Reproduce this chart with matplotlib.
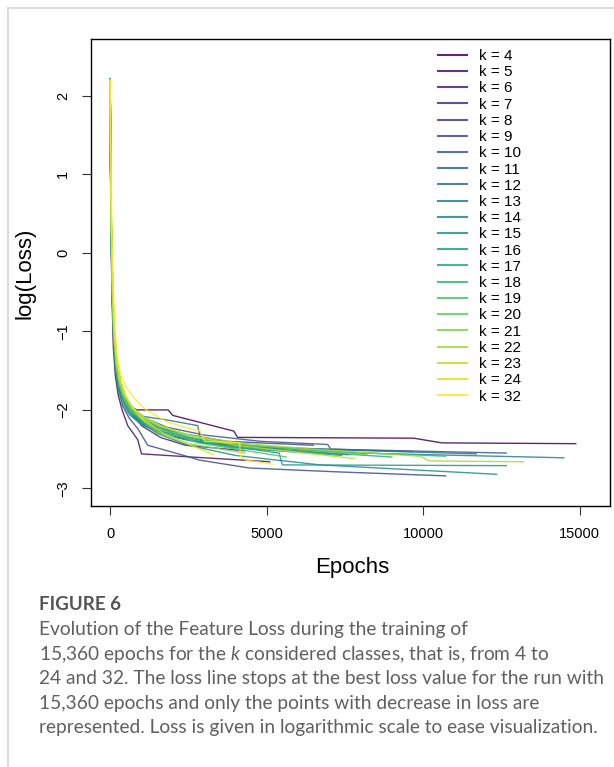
import numpy as np
import matplotlib.pyplot as plt
from matplotlib.lines import Line2D

plt.rcParams["font.family"] = ["Liberation Sans", "DejaVu Sans"]
plt.rcParams["mathtext.fontset"] = "custom"
plt.rcParams["mathtext.rm"] = "Lato"
plt.rcParams["mathtext.it"] = "Lato:italic"

# k values (one run per k)
k_values = [4, 5, 6, 7, 8, 9, 10, 11, 12, 13, 14, 15, 16, 17, 18, 19, 20, 21, 22, 23, 24, 32]

# epochs at which the loss improved, and log(loss) at those epochs
epochs_k4 = [0, 12, 35, 70, 120, 190, 290, 420, 600, 850, 1170, 1850, 2000, 3950, 4070, 9700, 10600, 14880]
loss_k4 = [2.21, 1.2, 0.3, -0.5, -1.05, -1.42, -1.65, -1.82, -1.95, -2.0, -2.0, -2.0, -2.07, -2.27, -2.35, -2.36, -2.42, -2.43]
epochs_k5 = [0, 10, 30, 60, 100, 160, 250, 380, 560, 880, 1000, 2600, 5100]
loss_k5 = [2.2, 1.0, 0.1, -0.6, -1.2, -1.55, -1.8, -2.0, -2.2, -2.38, -2.56, -2.6, -2.66]
epochs_k6 = [0, 14, 40, 80, 130, 210, 320, 480, 700, 1000, 1600, 2400, 4300]
loss_k6 = [2.19, 1.1, 0.2, -0.55, -1.1, -1.45, -1.7, -1.9, -2.05, -2.2, -2.35, -2.45, -2.52]
epochs_k7 = [0, 12, 38, 75, 125, 200, 310, 470, 700, 1100, 1900, 3000, 5200, 7600]
loss_k7 = [2.2, 1.15, 0.25, -0.5, -1.05, -1.45, -1.72, -1.9, -2.05, -2.2, -2.33, -2.42, -2.5, -2.57]
epochs_k8 = [0, 10, 35, 70, 115, 185, 280, 420, 620, 950, 1500, 2300, 3700, 6490]
loss_k8 = [2.21, 1.25, 0.35, -0.45, -1.0, -1.4, -1.65, -1.85, -2.0, -2.12, -2.22, -2.3, -2.4, -2.45]
epochs_k9 = [0, 11, 33, 68, 110, 175, 270, 400, 600, 900, 1200, 2440, 2860, 4450, 7320, 10720]
loss_k9 = [2.22, 1.1, 0.2, -0.6, -1.1, -1.5, -1.75, -1.95, -2.1, -2.25, -2.45, -2.59, -2.64, -2.74, -2.79, -2.84]
epochs_k10 = [0, 13, 40, 80, 130, 210, 320, 480, 720, 1100, 1800, 3000, 4800, 6950, 7050, 12660]
loss_k10 = [2.2, 1.2, 0.3, -0.45, -1.0, -1.38, -1.62, -1.82, -1.98, -2.1, -2.22, -2.32, -2.4, -2.44, -2.5, -2.55]
epochs_k11 = [0, 12, 36, 72, 120, 190, 290, 440, 650, 1000, 1600, 2700, 4500, 9640]
loss_k11 = [2.18, 1.05, 0.15, -0.6, -1.12, -1.48, -1.73, -1.92, -2.06, -2.18, -2.3, -2.4, -2.47, -2.53]
epochs_k12 = [0, 10, 32, 65, 110, 180, 280, 420, 640, 1000, 1700, 2800, 2900, 4800, 11700]
loss_k12 = [2.21, 1.2, 0.28, -0.5, -1.05, -1.45, -1.7, -1.88, -2.0, -2.08, -2.12, -2.2, -2.4, -2.48, -2.56]
epochs_k13 = [0, 12, 38, 76, 125, 200, 300, 450, 680, 1050, 1700, 2800, 4600, 8000, 14500]
loss_k13 = [2.2, 1.1, 0.2, -0.55, -1.08, -1.46, -1.7, -1.9, -2.04, -2.16, -2.28, -2.38, -2.47, -2.55, -2.61]
epochs_k14 = [0, 11, 34, 70, 115, 185, 285, 430, 640, 980, 1500, 2500, 4000, 6700, 12350]
loss_k14 = [2.19, 1.15, 0.25, -0.5, -1.05, -1.42, -1.68, -1.88, -2.02, -2.15, -2.3, -2.45, -2.58, -2.7, -2.82]
epochs_k15 = [0, 13, 39, 78, 128, 205, 310, 460, 690, 1050, 1700, 2700, 5400, 5500, 12660]
loss_k15 = [2.2, 1.2, 0.3, -0.45, -1.0, -1.4, -1.66, -1.86, -2.0, -2.12, -2.25, -2.4, -2.55, -2.7, -2.71]
epochs_k16 = [0, 10, 30, 62, 105, 170, 265, 400, 610, 940, 1500, 2400, 3900, 7400]
loss_k16 = [2.21, 1.1, 0.2, -0.55, -1.1, -1.5, -1.75, -1.93, -2.06, -2.17, -2.28, -2.38, -2.48, -2.58]
epochs_k17 = [0, 12, 36, 74, 122, 195, 300, 450, 670, 1000, 1600, 2600, 4200, 9000]
loss_k17 = [2.2, 1.05, 0.18, -0.58, -1.1, -1.46, -1.7, -1.9, -2.04, -2.16, -2.27, -2.38, -2.48, -2.6]
epochs_k18 = [0, 11, 35, 72, 118, 190, 290, 440, 660, 1000, 1650, 2700, 4400, 7000, 10720]
loss_k18 = [2.2, 1.15, 0.25, -0.5, -1.05, -1.42, -1.67, -1.87, -2.01, -2.13, -2.25, -2.36, -2.45, -2.53, -2.59]
epochs_k19 = [0, 13, 40, 80, 130, 210, 320, 480, 720, 1080, 1700, 2800, 5620]
loss_k19 = [2.19, 1.2, 0.3, -0.45, -1.0, -1.38, -1.64, -1.84, -1.98, -2.1, -2.25, -2.42, -2.6]
epochs_k20 = [0, 12, 37, 75, 125, 200, 305, 460, 690, 1050, 1500, 2300, 3600, 8200]
loss_k20 = [2.2, 1.1, 0.2, -0.55, -1.08, -1.46, -1.7, -1.88, -2.02, -2.12, -2.2, -2.3, -2.42, -2.57]
epochs_k21 = [0, 10, 33, 68, 112, 180, 280, 420, 630, 950, 1500, 2500, 4300]
loss_k21 = [2.21, 1.15, 0.25, -0.5, -1.03, -1.4, -1.64, -1.8, -1.95, -2.1, -2.28, -2.43, -2.55]
epochs_k22 = [0, 13, 40, 80, 132, 210, 320, 480, 720, 1100, 1700, 2600, 4100, 6500, 9920, 10180, 13200]
loss_k22 = [2.2, 1.25, 0.35, -0.42, -0.98, -1.36, -1.62, -1.82, -1.97, -2.1, -2.22, -2.33, -2.42, -2.5, -2.59, -2.65, -2.66]
epochs_k23 = [0, 11, 36, 74, 122, 198, 300, 455, 680, 1020, 1600, 2500, 4000, 7800]
loss_k23 = [2.2, 1.2, 0.3, -0.48, -1.0, -1.38, -1.62, -1.82, -1.96, -2.08, -2.2, -2.32, -2.45, -2.62]
epochs_k24 = [0, 12, 38, 78, 128, 205, 310, 470, 700, 1050, 1700, 3300]
loss_k24 = [2.19, 1.3, 0.4, -0.4, -0.95, -1.35, -1.6, -1.8, -1.97, -2.12, -2.3, -2.57]
epochs_k32 = [0, 14, 42, 85, 140, 220, 330, 500, 760, 1150, 1800, 2650, 2860, 3020, 4140, 4160, 4350, 5190]
loss_k32 = [2.2, 1.35, 0.5, -0.3, -0.9, -1.3, -1.55, -1.7, -1.85, -2.0, -2.15, -2.25, -2.26, -2.4, -2.42, -2.59, -2.64, -2.69]

runs = [
    (epochs_k4, loss_k4), (epochs_k5, loss_k5), (epochs_k6, loss_k6), (epochs_k7, loss_k7),
    (epochs_k8, loss_k8), (epochs_k9, loss_k9), (epochs_k10, loss_k10), (epochs_k11, loss_k11),
    (epochs_k12, loss_k12), (epochs_k13, loss_k13), (epochs_k14, loss_k14), (epochs_k15, loss_k15),
    (epochs_k16, loss_k16), (epochs_k17, loss_k17), (epochs_k18, loss_k18), (epochs_k19, loss_k19),
    (epochs_k20, loss_k20), (epochs_k21, loss_k21), (epochs_k22, loss_k22), (epochs_k23, loss_k23),
    (epochs_k24, loss_k24), (epochs_k32, loss_k32),
]

x_ticks = [0, 5000, 10000, 15000]
y_ticks = [-3, -2, -1, 0, 1, 2]

caption_title = "FIGURE 6"
caption_lines = [
    "Evolution of the Feature Loss during the training of",
    "15,360 epochs for the $k$ considered classes, that is, from 4 to",
    "24 and 32. The loss line stops at the best loss value for the run with",
    "15,360 epochs and only the points with decrease in loss are",
    "represented. Loss is given in logarithmic scale to ease visualization.",
]

W, H = 614, 767
fig = plt.figure(figsize=(W / 100, H / 100), dpi=100)

# card border (top and left)
fig.add_artist(Line2D([8 / W, 1], [1 - 8 / H, 1 - 8 / H], color="#d6d6d6", lw=1.2))
fig.add_artist(Line2D([8 / W, 8 / W], [0, 1 - 8 / H], color="#d6d6d6", lw=1.2))

ax = fig.add_axes([91 / W, 1 - 505.7 / H, (610 - 91) / W, (505.7 - 39.3) / H])
colors = plt.cm.viridis(np.linspace(0, 1, len(k_values)))

for (ep, lo), k, c in zip(runs, k_values, colors):
    ax.plot(ep, lo, color=c, lw=1.0, alpha=0.85, label=f"k = {k}")

# R style 4% padding around 0..15360 and -3..2.5
ax.set_xlim(-614, 15974)
ax.set_ylim(-3.22, 2.72)
ax.set_xticks(x_ticks)
ax.set_yticks(y_ticks)
ax.set_xticklabels([str(v) for v in x_ticks], fontsize=10.5)
ax.set_yticklabels([str(v).replace("-", "\u2212") for v in y_ticks], fontsize=10.5,
                   rotation=90, va="center")
ax.tick_params(direction="out", length=6.5, width=0.8, color="#333333")
ax.tick_params(axis="x", pad=8.5)
ax.tick_params(axis="y", pad=8.5)
for s in ax.spines.values():
    s.set_linewidth(1.0)

fig.text(352 / W, 1 - 567 / H, "Epochs", fontsize=16, ha="center", va="center")
fig.text(25 / W, 1 - 273 / H, "log(Loss)", fontsize=16, ha="center", va="center", rotation=90)

leg = ax.legend(loc="upper left", bbox_to_anchor=(438 / W, 1 - 49 / H),
                bbox_transform=fig.transFigure, frameon=False, fontsize=11,
                handlelength=1.9, handletextpad=0.8, labelspacing=0.145,
                borderpad=0, borderaxespad=0)
for h in leg.get_lines():
    h.set_alpha(0.85)
    h.set_linewidth(1.5)

# caption
fig.text(39 / W, 1 - 605 / H, caption_title, fontsize=13.5, color="#555555",
         fontweight="bold", family="Lato", va="center")
for i, line in enumerate(caption_lines):
    fig.text(39 / W, 1 - (630 + i * 24.4) / H, line, fontsize=13.8, color="#606060",
             family="Lato", va="center")

fig.savefig("out.png", dpi=100)
